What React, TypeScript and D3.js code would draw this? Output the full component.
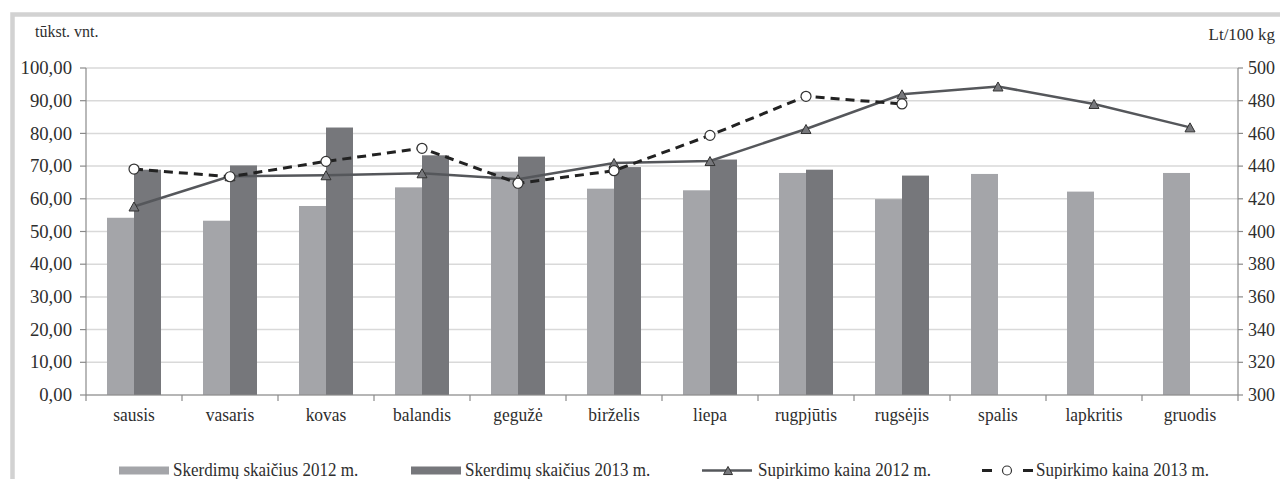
import React from "react";
import * as d3 from "d3";

const months = ["sausis","vasaris","kovas","balandis","gegužė","birželis","liepa","rugpjūtis","rugsėjis","spalis","lapkritis","gruodis"];
const slaughter2012 = [54.2, 53.3, 57.8, 63.5, 68.3, 63.1, 62.6, 67.9, 59.9, 67.6, 62.2, 67.9];
const slaughter2013 = [68.9, 70.2, 81.8, 73.3, 72.9, 69.7, 72.0, 68.9, 67.1];
const price2012 = [415.3, 433.8, 434.4, 435.6, 432.0, 441.9, 443.1, 462.7, 483.9, 488.7, 478.0, 463.7];
const price2013 = [438.2, 433.5, 442.9, 450.9, 429.5, 437.2, 458.8, 482.7, 478.0];
const leftTicks = [0, 10, 20, 30, 40, 50, 60, 70, 80, 90, 100];
const rightTicks = [300, 320, 340, 360, 380, 400, 420, 440, 460, 480, 500];
const legendLabels = ["Skerdimų skaičius 2012 m.", "Skerdimų skaičius 2013 m.", "Supirkimo kaina 2012 m.", "Supirkimo kaina 2013 m."];
const leftUnit = "tūkst. vnt.";
const rightUnit = "Lt/100 kg";

const W = 1280, H = 479;
const L = 86, R = 1238, T = 68, B = 395;
const FONT = "'Liberation Serif', 'Times New Roman', serif";
const TXT = "#2e2e2e";
const C12 = "#a4a5a9";
const C13 = "#76777b";
const GRID = "#d9d9d9";
const AX = "#8a8a8a";

function tri(cx: number, cy: number, s: number) {
  const h = s * 0.9;
  return `M${cx},${cy - h / 2}L${cx + s / 2},${cy + h / 2}L${cx - s / 2},${cy + h / 2}Z`;
}

function T2(props: { x: number; y: number; size: number; k?: number; anchor?: string; dy?: string; children: any }) {
  const k = props.k ?? 1;
  return (
    <text
      transform={`translate(${props.x},${props.y}) scale(${k},1)`}
      dy={props.dy}
      textAnchor={props.anchor || "start"}
      style={{ fontFamily: FONT, fontSize: props.size + "px" }}
      fill={TXT}
    >
      {props.children}
    </text>
  );
}

export default function App() {
  const x = d3.scaleBand<string>().domain(months).range([L, R]).paddingInner(0.4375).paddingOuter(0.21875);
  const x1 = d3.scaleBand<string>().domain(["a", "b"]).range([0, x.bandwidth()]);
  const yL = d3.scaleLinear().domain([0, 100]).range([B, T]);
  const yR = d3.scaleLinear().domain([300, 500]).range([B, T]);
  const step = (R - L) / months.length;
  const cx = (m: string) => (x(m) as number) + x.bandwidth() / 2;

  const line12 = d3.line<number>().x((_, i) => cx(months[i])).y((d) => yR(d));
  const line13 = d3.line<number>().x((_, i) => cx(months[i])).y((d) => yR(d));

  const fmt = (v: number) => v.toFixed(2).replace(".", ",");

  const legY = 470.5;
  const LF = 18.5, LK = 0.92;
  return (
    <svg width={W} height={H} style={{ position: "absolute", left: 0, top: 0, background: "#fff", fontFamily: FONT }}>
      <rect x={0} y={0} width={W} height={H} fill="#fff" />
      <rect x={12.5} y={14.5} width={W + 20} height={H + 20} fill="#fff" stroke="#d2d2d2" strokeWidth={4.5} />
      {leftTicks.map((t) => (
        <line key={"g" + t} x1={L} x2={R} y1={yL(t)} y2={yL(t)} stroke={GRID} strokeWidth={1.5} />
      ))}
      {months.map((m, i) => (
        <g key={"b" + m}>
          <rect x={(x(m) as number) + (x1("a") as number)} y={yL(slaughter2012[i])} width={x1.bandwidth()} height={B - yL(slaughter2012[i])} fill={C12} />
          {i < slaughter2013.length && (
            <rect x={(x(m) as number) + (x1("b") as number)} y={yL(slaughter2013[i])} width={x1.bandwidth()} height={B - yL(slaughter2013[i])} fill={C13} />
          )}
        </g>
      ))}
      <line x1={L} x2={L} y1={T} y2={B} stroke={AX} strokeWidth={1.2} />
      <line x1={R} x2={R} y1={T} y2={B} stroke={AX} strokeWidth={1.2} />
      <line x1={L} x2={R} y1={B} y2={B} stroke={AX} strokeWidth={1.2} />
      {leftTicks.map((t) => (
        <g key={"lt" + t}>
          <line x1={L - 6} x2={L} y1={yL(t)} y2={yL(t)} stroke={AX} strokeWidth={1.2} />
          <T2 x={L - 14} y={yL(t)} dy="0.34em" anchor="end" size={18} k={1.04}>{fmt(t)}</T2>
        </g>
      ))}
      {rightTicks.map((t) => (
        <g key={"rt" + t}>
          <line x1={R} x2={R + 5} y1={yR(t)} y2={yR(t)} stroke={AX} strokeWidth={1.2} />
          <T2 x={R + 10} y={yR(t)} dy="0.34em" size={18} k={1.0}>{t}</T2>
        </g>
      ))}
      {d3.range(months.length + 1).map((i) => (
        <line key={"xt" + i} x1={L + i * step} x2={L + i * step} y1={B} y2={B + 6} stroke={AX} strokeWidth={1.2} />
      ))}
      {months.map((m) => (
        <T2 key={"xl" + m} x={cx(m)} y={421} anchor="middle" size={18} k={0.97}>{m}</T2>
      ))}
      <T2 x={35} y={37} size={16} k={1.0}>{leftUnit}</T2>
      <T2 x={1275} y={40} anchor="end" size={17.5} k={0.97}>{rightUnit}</T2>
      <path d={line12(price2012) || ""} fill="none" stroke="#55575b" strokeWidth={2.5} />
      <path d={line13(price2013) || ""} fill="none" stroke="#222" strokeWidth={3} strokeDasharray="9,6" />
      {price2012.map((v, i) => (
        <path key={"tr" + i} d={tri(cx(months[i]), yR(v), 10)} fill="#77787c" stroke="#333" strokeWidth={1} />
      ))}
      {price2013.map((v, i) => (
        <circle key={"ci" + i} cx={cx(months[i])} cy={yR(v)} r={5} fill="#fff" stroke="#333" strokeWidth={1.2} />
      ))}
      <rect x={119} y={legY - 4} width={50} height={8} fill={C12} />
      <T2 x={173} y={476} size={LF} k={LK}>{legendLabels[0]}</T2>
      <rect x={411} y={legY - 4} width={50} height={8} fill={C13} />
      <T2 x={465} y={476} size={LF} k={LK}>{legendLabels[1]}</T2>
      <line x1={702} x2={752} y1={legY} y2={legY} stroke="#55575b" strokeWidth={2.5} />
      <path d={tri(728, legY, 9)} fill="#77787c" stroke="#333" strokeWidth={1} />
      <T2 x={758} y={476} size={LF} k={LK}>{legendLabels[2]}</T2>
      <line x1={982} x2={992} y1={legY} y2={legY} stroke="#222" strokeWidth={3} />
      <circle cx={1007} cy={legY} r={4.5} fill="#fff" stroke="#333" strokeWidth={1.2} />
      <line x1={1023} x2={1033} y1={legY} y2={legY} stroke="#222" strokeWidth={3} />
      <T2 x={1036} y={476} size={LF} k={LK}>{legendLabels[3]}</T2>
    </svg>
  );
}
